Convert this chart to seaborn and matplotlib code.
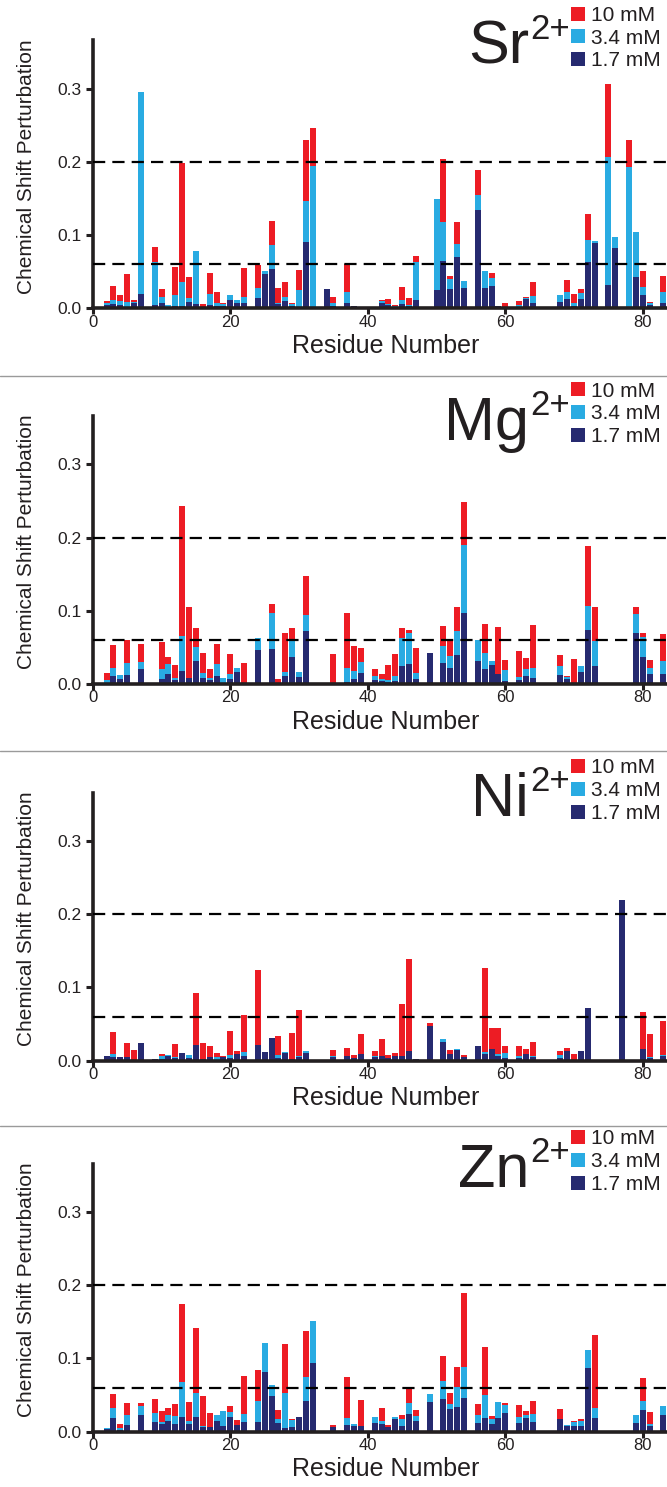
import matplotlib
matplotlib.use("Agg")
import matplotlib.pyplot as plt
from matplotlib.patches import Patch
from matplotlib.lines import Line2D
import seaborn as sns
import pandas as pd

# ---------------- data ----------------
sr_res = [2, 3, 4, 5, 6, 7, 9, 10, 11, 12, 13, 14, 15, 16, 17, 18, 19, 20, 21, 22, 24, 25, 26, 27, 28,
          29, 30, 31, 32, 34, 35, 37, 38, 39, 41, 42, 43, 44, 45, 46, 47, 50, 51, 52, 53, 54, 56, 57, 58,
          59, 60, 62, 63, 64, 68, 69, 70, 71, 72, 73, 75, 76, 78, 79, 80, 81, 83]
sr_10 = [0.010, 0.030, 0.018, 0.047, 0.011, 0.0, 0.084, 0.026, 0.0, 0.056, 0.198, 0.043, 0.0, 0.006, 0.048,
         0.022, 0.007, 0.0, 0.0, 0.055, 0.059, 0.0, 0.119, 0.028, 0.036,
         0.007, 0.052, 0.230, 0.246, 0.0, 0.0155, 0.060, 0.0, 0.0, 0.002, 0.011, 0.013, 0.0045, 0.029, 0.014,
         0.071, 0.0, 0.204, 0.044, 0.118, 0.0, 0.189, 0.0, 0.048,
         0.0, 0.007, 0.010, 0.0155, 0.036, 0.0, 0.039, 0.0195, 0.026, 0.129, 0.0, 0.307, 0.0, 0.230, 0.0,
         0.051, 0.0086, 0.044]
sr_34 = [0.007, 0.011, 0.010, 0.009, 0.008, 0.295, 0.063, 0.016, 0.0045, 0.018, 0.036, 0.014, 0.078, 0.002,
         0.020, 0.007, 0.006, 0.018, 0.011, 0.0155, 0.028, 0.051, 0.086, 0.007, 0.0155,
         0.006, 0.025, 0.146, 0.195, 0.0, 0.007, 0.022, 0.0, 0.0, 0.0, 0.010, 0.006, 0.003, 0.011, 0.005,
         0.063, 0.149, 0.118, 0.040, 0.088, 0.037, 0.155, 0.051, 0.041,
         0.0, 0.0, 0.0045, 0.014, 0.017, 0.018, 0.022, 0.007, 0.021, 0.093, 0.092, 0.206, 0.097, 0.193,
         0.104, 0.029, 0.007, 0.022]
sr_17 = [0.004, 0.006, 0.005, 0.002, 0.007, 0.020, 0.004, 0.007, 0.002, 0.003, 0.003, 0.009, 0.006, 0.001,
         0.0045, 0.003, 0.003, 0.011, 0.007, 0.007, 0.014, 0.047, 0.054, 0.006, 0.010,
         0.003, 0.002, 0.090, 0.0, 0.026, 0.003, 0.007, 0.003, 0.002, 0.0, 0.007, 0.0045, 0.002, 0.006, 0.003,
         0.011, 0.025, 0.0645, 0.026, 0.070, 0.028, 0.134, 0.028, 0.030,
         0.003, 0.002, 0.002, 0.013, 0.007, 0.0086, 0.013, 0.003, 0.013, 0.063, 0.089, 0.032, 0.082, 0.0,
         0.043, 0.018, 0.0045, 0.007]

mg_res = [2, 3, 4, 5, 7, 10, 11, 12, 13, 14, 15, 16, 17, 18, 19, 20, 21, 22, 24, 26, 27, 28, 29, 30, 31,
          35, 37, 38, 39, 41, 42, 43, 44, 45, 46, 47, 49, 51, 52, 53, 54, 56, 57, 58, 59, 60, 62, 63, 64,
          68, 69, 70, 71, 72, 73, 79, 80, 81, 83]
mg_10 = [0.015, 0.053, 0.0, 0.060, 0.054, 0.057, 0.037, 0.026, 0.2435, 0.105, 0.076, 0.042, 0.020, 0.054,
         0.0, 0.041, 0.0, 0.029, 0.0, 0.109, 0.007, 0.069, 0.076, 0.0, 0.147,
         0.041, 0.0966, 0.052, 0.049, 0.020, 0.0136, 0.026, 0.041, 0.076, 0.0735, 0.049, 0.0, 0.079, 0.0585,
         0.105, 0.249, 0.0, 0.082, 0.0, 0.0776, 0.033, 0.045, 0.035, 0.080,
         0.039, 0.011, 0.034, 0.0, 0.189, 0.105, 0.105, 0.069, 0.033, 0.068]
mg_34 = [0.0054, 0.022, 0.012, 0.029, 0.030, 0.020, 0.027, 0.008, 0.065, 0.0, 0.050, 0.015, 0.008, 0.027,
         0.008, 0.0136, 0.022, 0.0, 0.063, 0.097, 0.0, 0.016, 0.0585, 0.016, 0.094,
         0.0, 0.022, 0.018, 0.030, 0.011, 0.007, 0.0054, 0.011, 0.0626, 0.069, 0.015, 0.0, 0.052, 0.038,
         0.072, 0.190, 0.060, 0.042, 0.031, 0.0, 0.019, 0.0095, 0.020, 0.022,
         0.0245, 0.0095, 0.0, 0.0245, 0.107, 0.0585, 0.095, 0.064, 0.022, 0.031]
mg_17 = [0.0, 0.011, 0.007, 0.012, 0.020, 0.007, 0.0136, 0.0054, 0.0177, 0.008, 0.031, 0.008, 0.0054, 0.011,
         0.0, 0.007, 0.016, 0.0, 0.046, 0.048, 0.0, 0.011, 0.037, 0.0095, 0.072,
         0.0, 0.003, 0.007, 0.015, 0.0054, 0.004, 0.003, 0.004, 0.0245, 0.027, 0.007, 0.042, 0.0286, 0.022,
         0.039, 0.0966, 0.031, 0.020, 0.026, 0.0136, 0.004, 0.0054, 0.011, 0.008,
         0.012, 0.007, 0.0, 0.016, 0.0735, 0.0245, 0.069, 0.037, 0.0136, 0.0136]

ni_res = [2, 3, 4, 5, 6, 7, 9, 10, 11, 12, 13, 14, 15, 16, 17, 18, 19, 20, 21, 22, 24, 25, 26, 27, 28,
          29, 30, 31, 35, 37, 38, 39, 41, 42, 43, 44, 45, 46, 47, 49, 51, 52, 53, 54, 56, 57, 58, 59, 60,
          62, 63, 64, 68, 69, 70, 71, 72, 77, 80, 81, 83]
ni_10 = [0.0, 0.039, 0.0, 0.024, 0.0145, 0.0, 0.0, 0.009, 0.0, 0.0226, 0.0, 0.0, 0.092, 0.024, 0.020,
         0.0104, 0.0063, 0.040, 0.013, 0.063, 0.124, 0.0, 0.0, 0.0335, 0.0,
         0.0376, 0.069, 0.0, 0.0145, 0.017, 0.0077, 0.036, 0.013, 0.029, 0.0077, 0.0104, 0.078, 0.139, 0.0,
         0.051, 0.0, 0.0145, 0.0, 0.0077, 0.0, 0.127, 0.044, 0.044, 0.020,
         0.020, 0.016, 0.025, 0.013, 0.017, 0.009, 0.0, 0.0, 0.0, 0.066, 0.036, 0.054]
ni_34 = [0.0, 0.009, 0.0, 0.0, 0.0, 0.0, 0.0, 0.0063, 0.0077, 0.005, 0.0, 0.0077, 0.0, 0.0, 0.0,
         0.005, 0.0, 0.0077, 0.0, 0.0118, 0.0, 0.0, 0.0, 0.0077, 0.0118,
         0.0, 0.0063, 0.013, 0.0063, 0.0, 0.0, 0.0, 0.0063, 0.0, 0.0, 0.0, 0.0, 0.0, 0.0,
         0.0, 0.029, 0.0, 0.016, 0.0, 0.0, 0.0118, 0.0, 0.009, 0.0104,
         0.0063, 0.0, 0.0063, 0.0077, 0.0, 0.0, 0.0, 0.0, 0.0, 0.0, 0.005, 0.0077]
ni_17 = [0.0063, 0.005, 0.005, 0.005, 0.0, 0.024, 0.002, 0.002, 0.0063, 0.0036, 0.0104, 0.0036, 0.021, 0.002,
         0.005, 0.0, 0.005, 0.0036, 0.009, 0.0063, 0.021, 0.0118, 0.031, 0.0036, 0.0104,
         0.002, 0.005, 0.0104, 0.005, 0.0063, 0.0036, 0.009, 0.005, 0.0063, 0.0036, 0.0063, 0.0063, 0.013, 0.002,
         0.048, 0.025, 0.009, 0.0145, 0.005, 0.020, 0.009, 0.016, 0.0063, 0.0036,
         0.0036, 0.009, 0.005, 0.0036, 0.013, 0.0, 0.013, 0.0715, 0.2195, 0.016, 0.0036, 0.0063]

zn_res = [2, 3, 4, 5, 7, 9, 10, 11, 12, 13, 14, 15, 16, 17, 18, 19, 20, 21, 22, 24, 25, 26, 27, 28, 29,
          30, 31, 32, 35, 37, 38, 39, 41, 42, 43, 44, 45, 46, 47, 49, 51, 52, 53, 54, 56, 57, 58, 59, 60,
          62, 63, 64, 68, 69, 70, 71, 72, 73, 79, 80, 81, 83]
zn_10 = [0.0, 0.051, 0.0105, 0.039, 0.039, 0.0445, 0.028, 0.032, 0.038, 0.174, 0.040, 0.141, 0.0486, 0.0255,
         0.0, 0.0, 0.035, 0.016, 0.076, 0.084, 0.0, 0.0, 0.0295, 0.1195, 0.0173,
         0.0, 0.137, 0.0, 0.009, 0.0745, 0.0, 0.043, 0.0, 0.032, 0.009, 0.0, 0.0227, 0.0595, 0.0295,
         0.0, 0.103, 0.053, 0.088, 0.189, 0.038, 0.1155, 0.0214, 0.0, 0.039,
         0.036, 0.028, 0.042, 0.031, 0.0, 0.0145, 0.0173, 0.0, 0.132, 0.0, 0.073, 0.027, 0.0]
zn_34 = [0.005, 0.032, 0.005, 0.0227, 0.035, 0.0255, 0.013, 0.0227, 0.021, 0.068, 0.0145, 0.053, 0.0077, 0.0064,
         0.0227, 0.028, 0.027, 0.0, 0.024, 0.042, 0.121, 0.0636, 0.0173, 0.053, 0.016,
         0.0, 0.0745, 0.151, 0.0, 0.0186, 0.0105, 0.0, 0.020, 0.0145, 0.0, 0.020, 0.0173, 0.039, 0.021,
         0.051, 0.069, 0.038, 0.061, 0.088, 0.0227, 0.050, 0.0173, 0.040, 0.036,
         0.020, 0.0227, 0.024, 0.0, 0.009, 0.013, 0.0145, 0.111, 0.032, 0.0227, 0.042, 0.0105, 0.035]
zn_17 = [0.0036, 0.0186, 0.0023, 0.009, 0.0227, 0.013, 0.0105, 0.0145, 0.0105, 0.020, 0.0105, 0.020, 0.0064,
         0.0064, 0.0145, 0.0077, 0.020, 0.009, 0.013, 0.013, 0.081, 0.0486, 0.0118, 0.005, 0.0064,
         0.020, 0.042, 0.0936, 0.0064, 0.009, 0.0077, 0.0077, 0.0118, 0.0105, 0.0064, 0.0173, 0.0077, 0.024,
         0.0145, 0.040, 0.0445, 0.031, 0.0336, 0.046, 0.0118, 0.0186, 0.0105, 0.0186, 0.0255,
         0.0118, 0.0186, 0.013, 0.0173, 0.0077, 0.0077, 0.0077, 0.087, 0.0186, 0.0118, 0.0295, 0.0077, 0.0227]

ion_names = ["Sr", "Mg", "Ni", "Zn"]
ion_charge = "2+"
conc_labels = ["10 mM", "3.4 mM", "1.7 mM"]
x_ticks = [0, 20, 40, 60, 80]
y_ticks = [0.0, 0.1, 0.2, 0.3]
y_tick_labels = ["0.0", "0.1", "0.2", "0.3"]
thresholds = [0.06, 0.2]

# ---------------- style ----------------
sns.set_theme(style="ticks")
plt.rcParams["font.family"] = ["Liberation Sans", "DejaVu Sans"]

RED = "#ED1C24"
CYAN = "#29ABE2"
NAVY = "#262A70"
AXC = "#231F20"
colors = [RED, CYAN, NAVY]

W, H = 667.0, 1487.0
fig = plt.figure(figsize=(W / 100, H / 100), dpi=100)

panels = [
    (sr_res, sr_10, sr_34, sr_17),
    (mg_res, mg_10, mg_34, mg_17),
    (ni_res, ni_10, ni_34, ni_17),
    (zn_res, zn_10, zn_34, zn_17),
]
baselines = [308.3, 684.0, 1060.7, 1431.7]
x0_px = 92.8
ax_h_px = 268.0
ax_w_px = W - x0_px

for i, (res, v10, v34, v17) in enumerate(panels):
    base = baselines[i]
    off = base - baselines[0]
    ax = fig.add_axes([x0_px / W, 1 - base / H, ax_w_px / W, ax_h_px / H])
    df = pd.DataFrame({"res": res, "10 mM": v10, "3.4 mM": v34, "1.7 mM": v17})
    for lab, col in zip(conc_labels, colors):
        sns.barplot(data=df, x="res", y=lab, native_scale=True, orient="x",
                    color=col, width=0.86, errorbar=None, linewidth=0,
                    saturation=1, ax=ax, zorder=2)
    for t in thresholds:
        ax.axhline(t, color="black", lw=1.6, dashes=(5.5, 3.2), zorder=5)
    ax.set_xlim(0, ax_w_px / 6.875)
    ax.set_ylim(0, 0.366)
    ax.set_xticks(x_ticks)
    ax.set_xticklabels([str(v) for v in x_ticks], fontsize=12)
    ax.set_yticks(y_ticks)
    ax.set_yticklabels(y_tick_labels, fontsize=12.5)
    ax.tick_params(axis="both", direction="out", width=2.2, color=AXC, labelcolor=AXC)
    ax.tick_params(axis="x", pad=0.5, length=4)
    ax.tick_params(axis="y", pad=3, length=5)
    for s in ["top", "right"]:
        ax.spines[s].set_visible(False)
    for s in ["left", "bottom"]:
        ax.spines[s].set_linewidth(2.6)
        ax.spines[s].set_color(AXC)
    ax.set_xlabel("Residue Number", fontsize=18, color=AXC, labelpad=0)
    ax.set_ylabel("Chemical Shift Perturbation", fontsize=15, color=AXC)
    ax.yaxis.set_label_coords((36 - x0_px) / ax_w_px, 0.53)
    ax.xaxis.set_label_coords(0.51, -(334 - 308.3) / ax_h_px)
    ax.set_facecolor("none")

    # title
    fig.text(529 / W, 1 - (64 + off) / H, ion_names[i], fontsize=44, ha="right", va="baseline", color=AXC)
    fig.text(530 / W, 1 - (39 + off) / H, ion_charge, fontsize=25, ha="left", va="baseline", color=AXC)

    # legend
    handles = [Patch(facecolor=c, edgecolor="none") for c in colors]
    leg = ax.legend(handles, conc_labels, loc="upper left", bbox_to_anchor=(571 / W, 1 - (6 + off) / H),
                    bbox_transform=fig.transFigure, frameon=False, fontsize=15,
                    handlelength=0.65, handleheight=0.65, handletextpad=0.3, labelspacing=0.18,
                    borderpad=0, borderaxespad=0)
    for txt in leg.get_texts():
        txt.set_color(AXC)

# separators
for yp in [376, 751, 1126]:
    fig.add_artist(Line2D([0, 1], [1 - yp / H, 1 - yp / H], color="#9A9A9A", lw=1.0,
                          transform=fig.transFigure))

fig.savefig("out.png", dpi=100)
